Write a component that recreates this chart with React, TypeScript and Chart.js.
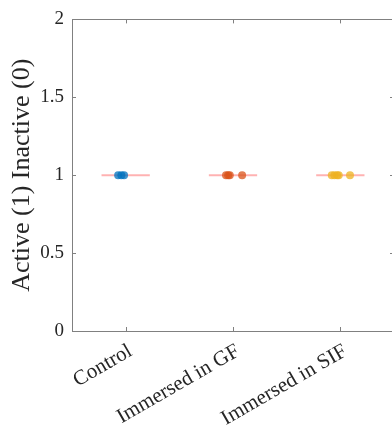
import React, { useEffect, useRef } from "react";
import { Chart, registerables } from "chart.js";

Chart.register(...registerables);

const categories = ["Control", "Immersed in GF", "Immersed in SIF"];
const controlX = [0.93, 0.96, 0.985];
const controlY = [1, 1, 1];
const gfX = [1.935, 1.955, 1.97, 2.085];
const gfY = [1, 1, 1, 1];
const sifX = [2.92, 2.945, 2.97, 2.985, 3.09];
const sifY = [1, 1, 1, 1, 1];
const meanValues = [1, 1, 1];
const yTicks = [0, 0.5, 1, 1.5, 2];

const FONT = "'Liberation Serif', 'Times New Roman', serif";
const AXIS = "#808080";

const boxPlugin = {
  id: "boxTicks",
  afterDraw(chart: any) {
    const { ctx, chartArea } = chart;
    const { left, right, top, bottom } = chartArea;
    const xs = chart.scales.x;
    const ys = chart.scales.y;
    ctx.save();
    ctx.strokeStyle = AXIS;
    ctx.lineWidth = 1;
    ctx.beginPath();
    ctx.rect(Math.round(left) + 0.5, Math.round(top) + 0.5, Math.round(right - left), Math.round(bottom - top));
    const tl = 4;
    yTicks.forEach((v) => {
      const y = Math.round(ys.getPixelForValue(v)) + 0.5;
      ctx.moveTo(left, y);
      ctx.lineTo(left + tl, y);
      ctx.moveTo(right, y);
      ctx.lineTo(right - tl, y);
    });
    [1, 2, 3].forEach((v) => {
      const x = Math.round(xs.getPixelForValue(v)) + 0.5;
      ctx.moveTo(x, bottom);
      ctx.lineTo(x, bottom - tl);
      ctx.moveTo(x, top);
      ctx.lineTo(x, top + tl);
    });
    ctx.stroke();
    ctx.restore();
  },
};

export default function App() {
  const ref = useRef<HTMLCanvasElement>(null);
  useEffect(() => {
    if (!ref.current) return;
    const pts = (xs: number[], ys: number[]) => xs.map((x, i) => ({ x, y: ys[i] }));
    const meanDatasets = meanValues.map((m, i) => ({
      type: "line" as const,
      data: [
        { x: i + 1 - 0.225, y: m },
        { x: i + 1 + 0.225, y: m },
      ],
      borderColor: "rgba(255,0,0,0.3)",
      borderWidth: 2,
      pointRadius: 0,
      order: 10,
    }));
    const chart = new Chart(ref.current, {
      type: "scatter",
      data: {
        datasets: [
          ...meanDatasets,
          { data: pts(controlX, controlY), backgroundColor: "rgba(0,114,189,0.75)", borderWidth: 0, pointRadius: 4, order: 1 },
          { data: pts(gfX, gfY), backgroundColor: "rgba(217,83,25,0.75)", borderWidth: 0, pointRadius: 4, order: 1 },
          { data: pts(sifX, sifY), backgroundColor: "rgba(237,177,32,0.75)", borderWidth: 0, pointRadius: 4, order: 1 },
        ] as any,
      },
      options: {
        animation: false,
        responsive: false,
        layout: { padding: { top: 14, right: 6, left: 0, bottom: 0 } },
        plugins: { legend: { display: false }, tooltip: { enabled: false } },
        scales: {
          x: {
            type: "linear",
            min: 0.5,
            max: 3.5,
            grid: { display: false, drawTicks: false },
            border: { display: false },
            afterBuildTicks: (s: any) => {
              s.ticks = [1, 2, 3].map((v) => ({ value: v }));
            },
            afterFit: (s: any) => {
              s.height = 101;
            },
            ticks: {
              autoSkip: false,
              minRotation: 30,
              maxRotation: 30,
              padding: 8,
              labelOffset: 5,
              color: "#262626",
              font: { family: FONT, size: 21 },
              callback: (v: any) => categories[Math.round(Number(v)) - 1] ?? "",
            },
          },
          y: {
            min: 0,
            max: 2,
            grid: { display: false, drawTicks: false },
            border: { display: false },
            afterBuildTicks: (s: any) => {
              s.ticks = yTicks.map((v) => ({ value: v }));
            },
            afterFit: (s: any) => {
              s.width = 72;
            },
            ticks: {
              padding: 8,
              color: "#262626",
              font: { family: FONT, size: 19 },
              callback: (v: any) => String(v),
            },
            title: {
              display: true,
              text: "Active (1) Inactive (0)",
              color: "#262626",
              font: { family: FONT, size: 26 },
              padding: { top: 7, bottom: 0 },
            },
          },
        },
      },
      plugins: [boxPlugin],
    });
    return () => chart.destroy();
  }, []);
  return (
    <div style={{ position: "fixed", left: 0, top: 0, width: 392, height: 432, overflow: "hidden", background: "#fff" }}>
      <canvas ref={ref} width={400} height={432} style={{ display: "block" }} />
    </div>
  );
}
